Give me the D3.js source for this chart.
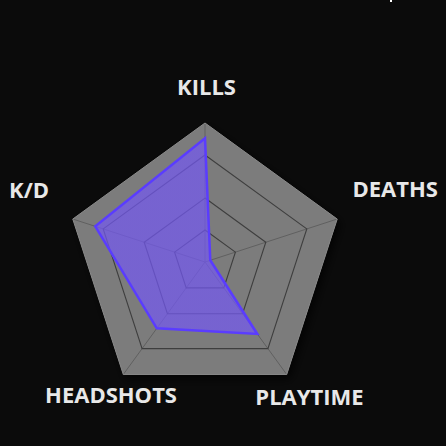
<!DOCTYPE html>
<html><head><meta charset="utf-8">
<script src="https://cdn.jsdelivr.net/npm/d3@7"></script>
<style>
html,body{margin:0;padding:0;background:#0b0b0b;}
svg{display:block;}
</style></head>
<body>
<svg id="chart" width="446" height="446"></svg>
<script>
const axes = ["KILLS", "DEATHS", "PLAYTIME", "HEADSHOTS", "K/D"];
const values = [89, 4, 64, 59, 83];
const ringLevels = [23, 46, 77, 100];
const maxValue = 100;

const W = 446, H = 446;
const cx = 205, cy = 262, R = 139;
const svg = d3.select("#chart");
svg.append("rect").attr("width", W).attr("height", H).attr("fill", "#0b0b0b");

const defs = svg.append("defs");
const shadow = defs.append("filter").attr("id", "shadow").attr("x", "-20%").attr("y", "-20%").attr("width", "140%").attr("height", "140%");
shadow.append("feDropShadow").attr("dx", 3).attr("dy", 4).attr("stdDeviation", 5).attr("flood-color", "#000").attr("flood-opacity", 0.8);

const grad = defs.append("radialGradient").attr("id", "dataGrad")
  .attr("gradientUnits", "userSpaceOnUse").attr("cx", cx).attr("cy", cy).attr("r", R);
grad.append("stop").attr("offset", "0%").attr("stop-color", "#b4407a");
grad.append("stop").attr("offset", "50%").attr("stop-color", "#8a5ad8");
grad.append("stop").attr("offset", "100%").attr("stop-color", "#7458f4");

const r = d3.scaleLinear().domain([0, maxValue]).range([0, R]);
const angle = d3.scalePoint().domain(axes).range([0, 2 * Math.PI * (axes.length - 1) / axes.length]);

const g = svg.append("g").attr("transform", `translate(${cx},${cy})`);
const radial = d3.lineRadial().angle(d => angle(d.axis)).radius(d => r(d.value)).curve(d3.curveLinearClosed);

g.append("path")
  .datum(axes.map(a => ({axis: a, value: maxValue})))
  .attr("d", radial)
  .attr("fill", "#7b7b7b")
  .attr("filter", "url(#shadow)");

g.selectAll("line.spoke").data(axes).join("line")
  .attr("class", "spoke")
  .attr("x1", 0).attr("y1", 0)
  .attr("x2", d => r(maxValue) * Math.sin(angle(d)))
  .attr("y2", d => -r(maxValue) * Math.cos(angle(d)))
  .attr("stroke", "#606060").attr("stroke-width", 1);

g.selectAll("path.ring").data(ringLevels.slice(0, -1)).join("path")
  .attr("class", "ring")
  .attr("d", lv => radial(axes.map(a => ({axis: a, value: lv}))))
  .attr("fill", "none")
  .attr("stroke", "#3e3e3e").attr("stroke-width", 1.1);

g.append("path")
  .datum(axes.map(a => ({axis: a, value: maxValue})))
  .attr("d", radial)
  .attr("fill", "none")
  .attr("stroke", "#8a8a8a").attr("stroke-width", 1);

const data = axes.map((a, i) => ({axis: a, value: values[i]}));
g.append("path")
  .datum(data)
  .attr("d", radial)
  .attr("fill", "url(#dataGrad)")
  .attr("fill-opacity", 0.7)
  .attr("stroke", "#5a3cff")
  .attr("stroke-width", 2.5)
  .attr("stroke-linejoin", "miter");

// label placement: radial distance per axis plus small nudges
const labelRadius = [175, 200, 165, 165, 185];
const labelLift = [0, 11, -2, 0, 15];
const labelNudge = [1.5, 0, 7.5, 3, 0];
g.selectAll("text.lbl").data(axes).join("text")
  .attr("class", "lbl")
  .attr("x", (d, i) => labelRadius[i] * Math.sin(angle(d)) + labelNudge[i])
  .attr("y", (d, i) => -labelRadius[i] * Math.cos(angle(d)) - labelLift[i])
  .attr("dy", "0.36em")
  .attr("text-anchor", "middle")
  .attr("font-family", "'Open Sans', sans-serif")
  .attr("font-weight", 700)
  .attr("font-size", 22)
  .attr("fill", "#e8e8e8")
  .text(d => d);

svg.append("rect").attr("x", 390).attr("y", 0).attr("width", 2).attr("height", 2).attr("fill", "#ffffff");
</script>
</body></html>
